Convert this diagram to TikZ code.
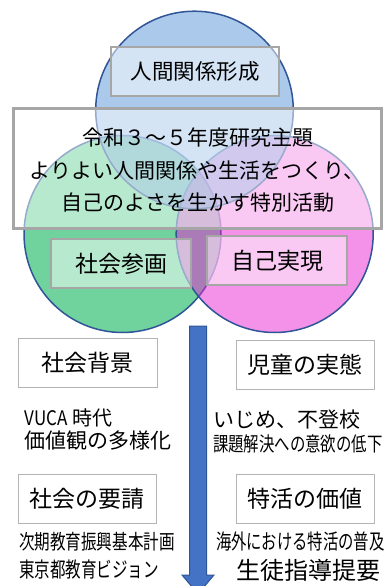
\documentclass[tikz,border=0pt]{standalone}
\usepackage{fontspec}
\usepackage{graphicx}
\setmainfont{Noto Sans CJK JP}
\definecolor{cborder}{RGB}{47,85,151}
\definecolor{cblue}{RGB}{88,148,213}
\definecolor{cgreen}{RGB}{112,211,158}
\definecolor{cpink}{RGB}{231,37,209}
\definecolor{boxgray}{RGB}{166,166,166}
\definecolor{lowgray}{RGB}{180,180,180}
\definecolor{arrowblue}{RGB}{68,114,196}
\begin{document}
\begin{tikzpicture}[x=1pt,y=-1pt,
  every node/.style={inner sep=0pt,outer sep=0pt},
  circ/.style={draw=cborder,line width=1.5pt},
  lbl/.style={draw=boxgray,line width=1.5pt,fill=white,fill opacity=0.5,text opacity=1,
    minimum width=140pt,minimum height=49pt,font=\fontsize{23}{27}\selectfont},
  lowbox/.style={draw=lowgray,line width=1pt,fill=white,
    minimum width=139pt,minimum height=49pt,font=\fontsize{23}{27}\selectfont},
  free/.style={anchor=west,font=\fontsize{21}{25}\selectfont},
  maintxt/.style={font=\fontsize{21}{25}\selectfont}]
\useasboundingbox (0,0) rectangle (387,586);
% circles
\fill[cgreen] (122.5,234) circle[radius=98.5pt];
\draw[circ] (122.5,234) circle[radius=98.5pt];
\fill[cpink,fill opacity=0.5] (274.7,234) circle[radius=98.5pt];
\draw[circ] (274.7,234) circle[radius=98.5pt];
\fill[cblue,fill opacity=0.5] (194.5,110) circle[radius=98.8pt];
\draw[circ] (194.5,110) circle[radius=98.8pt];
% main box
\node[draw=boxgray,line width=3pt,fill=white,fill opacity=0.5,
  minimum width=367.7pt,minimum height=119.7pt] (mainbox) at (197.2,168.2) {};
\node[maintxt] (t1) at (197.5,138) {令和３～５年度研究主題};
\node[maintxt] (t2) at (197,171) {よりよい人間関係や生活をつくり、};
\node[maintxt] (t3) at (197.5,203) {自己のよさを生かす特別活動};
% label boxes
\node[lbl,minimum width=168pt,font=\fontsize{21.5}{25}\selectfont] (hk) at (195,71.5) {人間関係形成};
\node[lbl] (ss) at (121,263.5) {社会参画};
\node[lbl] (jj) at (277,260.5) {自己実現};
% arrow
\coordinate (atop) at (198,326);
\coordinate (abase) at (198,575);
\coordinate (atip) at (198,594);
\draw[fill=arrowblue,draw=cborder,line width=1pt]
  ([xshift=-8.5pt]atop) -- ([xshift=8.5pt]atop) -- ([xshift=8.5pt]abase)
  -- ([xshift=16pt]abase) -- (atip) -- ([xshift=-16pt]abase)
  -- ([xshift=-8.5pt]abase) -- cycle;
% lower boxes
\node[lowbox] (sh) at (87.5,362.5) {社会背景};
\node[lowbox,minimum width=138pt] (jd) at (305,364.5) {児童の実態};
\node[lowbox,minimum width=138pt] (sy) at (87,498.5) {社会の要請};
\node[lowbox,minimum width=138pt] (tk) at (305,498.5) {特活の価値};
% free texts
\node[free,font=\fontsize{20}{24}\selectfont] (vuca) at (24.5,418) {\scalebox{0.85}[1]{VUCA} 時代};
\node[free] (kk) at (24,441) {価値観の多様化};
\node[free] (ij) at (213,420) {いじめ、不登校};
\node[free] (kd) at (213,444) {\scalebox{0.77}[1]{\fontsize{20}{24}\selectfont 課題解決への意欲の低下}};
\node[free] (jk) at (19,542) {\scalebox{0.76}[1]{\fontsize{20.5}{24}\selectfont 次期教育振興基本計画}};
\node[free] (tv) at (19,570) {\scalebox{0.74}[1]{\fontsize{21}{25}\selectfont 東京都教育ビジョン}};
\node[free] (kg) at (216,541.5) {\scalebox{0.73}[1]{\fontsize{21}{25}\selectfont 海外における特活の普及}};
\node[free,font=\fontsize{24}{28}\selectfont] (sd) at (236.5,570) {生徒指導提要};
\end{tikzpicture}
\end{document}
